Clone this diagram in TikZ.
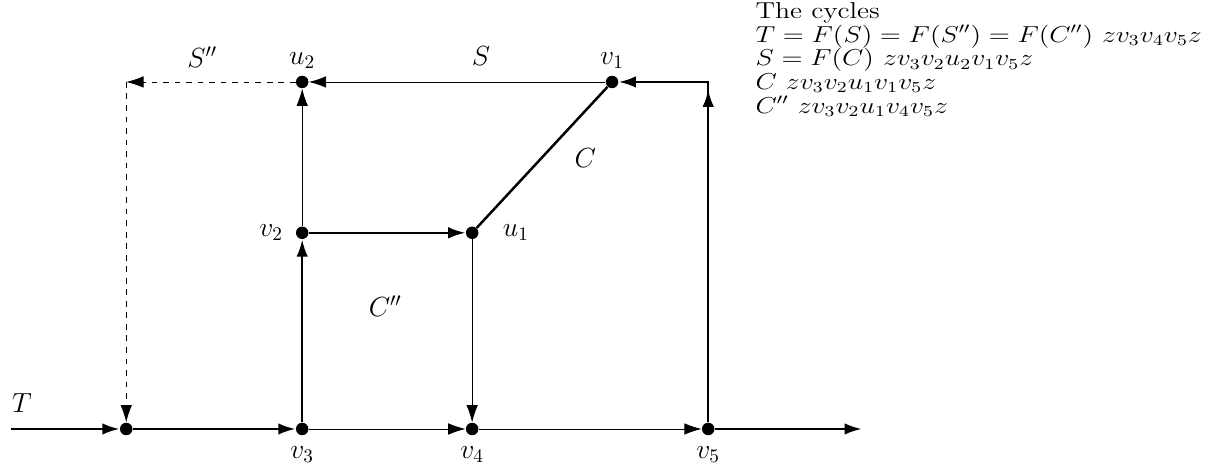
\documentclass[tikz,border=0pt]{standalone}
\usepackage{xcolor}
\usepackage{graphicx}
\usepackage{tikz}
\usetikzlibrary{arrows.meta,positioning,calc}
\newcommand{\wline}[1]{\scalebox{1.2}[1]{#1}}

\begin{document}
\begin{tikzpicture}[
        font=\fontsize{14.4}{12}\selectfont,
        vtx/.style={circle, fill=black, inner sep=0pt, minimum size=6.5pt},
        arr/.style={-{Latex[length=9pt,width=6pt]}},
        heavy/.style={line width=1.3pt},
        light/.style={line width=0.45pt}
    ]
        \useasboundingbox (0,0) rectangle (22.27,8.60);

        \node[vtx] (z) at (2.31,0.75) {};
        \node[vtx, label={[label distance=2pt]below:$v_3$}] (v3) at (5.53,0.75) {};
        \node[vtx, label={[label distance=2pt]below:$v_4$}] (v4) at (8.64,0.75) {};
        \node[vtx, label={[label distance=2pt]below:$v_5$}] (v5) at (12.96,0.75) {};
        \node[vtx, label={[label distance=3pt]left:$v_2$}] (v2) at (5.53,4.34) {};
        \node[vtx, label={[label distance=9pt]right:$u_1$}] (u1) at (8.64,4.34) {};
        \node[vtx, label=above:$u_2$] (u2) at (5.53,7.10) {};
        \node[vtx, label=above:$v_1$] (v1) at (11.20,7.10) {};

        \coordinate (in) at (0.20,0.75);
        \coordinate (out) at (15.77,0.75);
        \coordinate (tr) at (12.96,7.10);
        \coordinate (tl) at (2.31,7.10);

        \draw[heavy,arr] (in) -- (z);
        \draw[heavy,arr] (z) -- (v3);
        \draw[heavy,arr] (v3) -- (v2);
        \draw[heavy,arr] (v2) -- (u1);
        \draw[heavy] (u1) -- (v1);
        \draw[heavy,arr] (v5) |- (v1);
        \draw[heavy,arr,shorten >=4pt] (v5) -- (tr);
        \draw[heavy,arr] (v5) -- (out);

        \draw[light,arr] (v3) -- (v4);
        \draw[light,arr] (v4) -- (v5);
        \draw[light,arr] (u1) -- (v4);
        \draw[light,arr] (v2) -- (u2);
        \draw[light,arr] (v1) -- (u2);
        \draw[light,dashed,arr] (u2) -- (tl);
        \draw[light,dashed,arr] (tl) -- (z);

        \node (lT) at (0.40,1.23) {$T$};
        \node (lSS) at (3.70,7.55) {$S''$};
        \node (lS) at (8.80,7.58) {$S$};
        \node (lC) at (10.71,5.71) {$C$};
        \node (lCC) at (7.05,3.00) {$C''$};

        \node[anchor=north west, inner sep=0pt, align=left, font=\fontsize{12}{12.3}\selectfont] (cycles) at (13.82,8.56) {\lineskiplimit=-10pt
            \wline{The cycles}\\
            \wline{$T=F(S)=F(S'')=F(C'')$ $zv_3v_4v_5z$}\\
            \wline{$S=F(C)$ $zv_3v_2u_2v_1v_5z$}\\
            \wline{$C$ $zv_3v_2u_1v_1v_5z$}\\
            \wline{$C''$ $zv_3v_2u_1v_4v_5z$}
        };
    \end{tikzpicture}
\end{document}
